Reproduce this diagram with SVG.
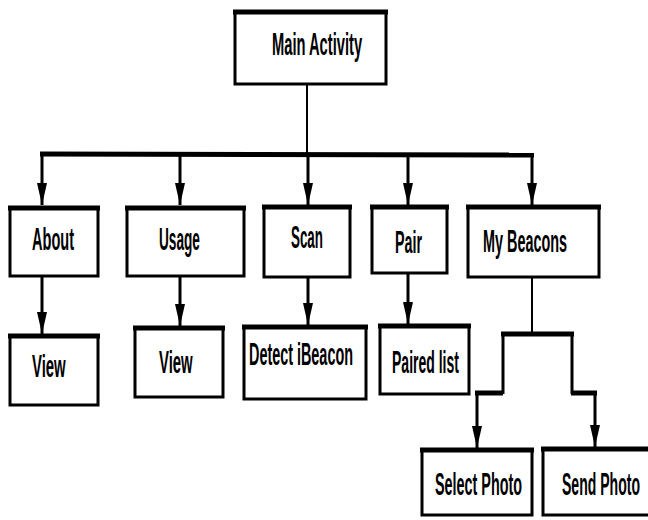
<svg xmlns="http://www.w3.org/2000/svg" width="648" height="520" viewBox="0 0 648 520">
<style>
.box{fill:#fff;stroke:#000;stroke-width:3}
.top{stroke:#000;stroke-width:5;fill:none}
.lbl{font-family:"Liberation Sans",Arial,sans-serif;font-weight:bold;font-size:30px;fill:#000}
.w{stroke:#000;stroke-width:3;fill:none}
.bar{stroke:#000;stroke-width:5;fill:none}
.thin{stroke:#000;stroke-width:2;fill:none}
</style>
<defs>
<marker id="ah" viewBox="0 0 22 10" refX="22" refY="5" markerWidth="22" markerHeight="10" markerUnits="userSpaceOnUse" orient="auto">
<path d="M0,0 L22,5 L0,10 z" fill="#000"/>
</marker>
</defs>
<rect width="648" height="520" fill="#fff"/>
<g id="connectors">
<line class="thin" x1="307" y1="84" x2="307" y2="155"/>
<line class="bar" x1="40" y1="154" x2="534" y2="155"/>
<line class="w" x1="42" y1="154" x2="42" y2="205" marker-end="url(#ah)"/>
<line class="w" x1="180" y1="154" x2="180" y2="205" marker-end="url(#ah)"/>
<line class="w" x1="308" y1="154" x2="308" y2="205" marker-end="url(#ah)"/>
<line class="w" x1="408" y1="155" x2="408" y2="205" marker-end="url(#ah)"/>
<line class="w" x1="532" y1="155" x2="532" y2="205" marker-end="url(#ah)"/>
<line class="w" x1="42" y1="277" x2="42" y2="334" marker-end="url(#ah)"/>
<line class="w" x1="180" y1="277" x2="180" y2="326" marker-end="url(#ah)"/>
<line class="w" x1="308" y1="278" x2="308" y2="325" marker-end="url(#ah)"/>
<line class="w" x1="408" y1="274" x2="408" y2="324" marker-end="url(#ah)"/>
<line class="thin" x1="532" y1="277" x2="532" y2="333"/>
<line class="bar" x1="501" y1="334" x2="574" y2="334"/>
<line class="w" x1="503" y1="334" x2="503" y2="394"/>
<line class="bar" x1="503" y1="393" x2="475" y2="393"/>
<line class="w" x1="477" y1="391" x2="477" y2="448" marker-end="url(#ah)"/>
<line class="w" x1="572" y1="334" x2="572" y2="394"/>
<line class="bar" x1="571" y1="393" x2="597" y2="393"/>
<line class="w" x1="595" y1="391" x2="595" y2="447" marker-end="url(#ah)"/>
</g>
<g id="main">
<rect class="box" x="235" y="12" width="151" height="72"/>
<line class="top" x1="233" y1="12" x2="388" y2="12"/>
<text class="lbl" transform="translate(272,55) scale(0.49,1.07)">Main Activity</text>
</g>
<g id="about">
<rect class="box" x="10" y="208" width="88" height="68"/>
<line class="top" x1="8" y1="208" x2="100" y2="208"/>
<text class="lbl" transform="translate(32,250) scale(0.485,1.07)">About</text>
</g>
<g id="usage">
<rect class="box" x="127" y="208" width="117" height="68"/>
<line class="top" x1="125" y1="208" x2="246" y2="208"/>
<text class="lbl" transform="translate(159,250) scale(0.455,1.07)">Usage</text>
</g>
<g id="scan">
<rect class="box" x="264" y="207" width="86" height="70"/>
<line class="top" x1="262" y1="207" x2="352" y2="207"/>
<text class="lbl" transform="translate(291,248) scale(0.446,1.07)">Scan</text>
</g>
<g id="pair">
<rect class="box" x="372" y="207" width="75" height="66"/>
<line class="top" x1="370" y1="207" x2="449" y2="207"/>
<text class="lbl" transform="translate(395,253) scale(0.476,1.07)">Pair</text>
</g>
<g id="mybeacons">
<rect class="box" x="468" y="207" width="131" height="70"/>
<line class="top" x1="466" y1="207" x2="601" y2="207"/>
<text class="lbl" transform="translate(483,252) scale(0.48,1.07)">My Beacons</text>
</g>
<g id="view1">
<rect class="box" x="10" y="336" width="88" height="69"/>
<line class="top" x1="8" y1="336" x2="100" y2="336"/>
<text class="lbl" transform="translate(32,377) scale(0.497,1.07)">View</text>
</g>
<g id="view2">
<rect class="box" x="135" y="328" width="88" height="69"/>
<line class="top" x1="133" y1="328" x2="225" y2="328"/>
<text class="lbl" transform="translate(159,373) scale(0.497,1.07)">View</text>
</g>
<g id="detect">
<rect class="box" x="244" y="327" width="122" height="72"/>
<line class="top" x1="242" y1="327" x2="368" y2="327"/>
<text class="lbl" transform="translate(249,365) scale(0.48,1.07)">Detect iBeacon</text>
</g>
<g id="pairedlist">
<rect class="box" x="380" y="326" width="89" height="68"/>
<line class="top" x1="378" y1="326" x2="471" y2="326"/>
<text class="lbl" transform="translate(392,373) scale(0.467,1.07)">Paired list</text>
</g>
<g id="selectphoto">
<rect class="box" x="422" y="450" width="110" height="65"/>
<line class="top" x1="420" y1="450" x2="534" y2="450"/>
<text class="lbl" transform="translate(435,495) scale(0.479,1.07)">Select Photo</text>
</g>
<g id="sendphoto">
<rect class="box" x="543" y="449" width="110" height="66"/>
<line class="top" x1="541" y1="449" x2="655" y2="449"/>
<text class="lbl" transform="translate(562,495) scale(0.468,1.07)">Send Photo</text>
</g>
</svg>
